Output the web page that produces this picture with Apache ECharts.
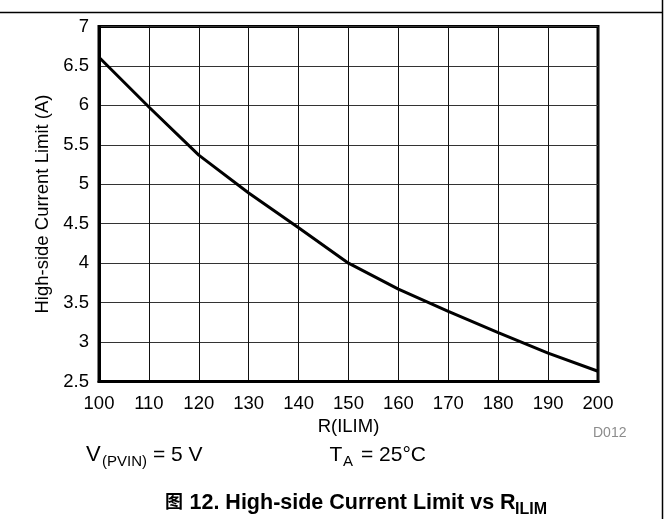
<!DOCTYPE html>
<html>
<head>
<meta charset="utf-8">
<script src="https://cdn.jsdelivr.net/npm/echarts@6/dist/echarts.min.js"></script>
<style>
html,body{margin:0;padding:0;background:#fff;}
#c{width:669px;height:519px;}
</style>
</head>
<body>
<div id="c"></div>
<script>
// Data
var rIlim = [100, 110, 120, 130, 140, 150, 160, 170, 180, 190, 200];
var currentLimit = [6.61, 5.98, 5.37, 4.89, 4.45, 4.00, 3.67, 3.39, 3.12, 2.86, 2.63];
var xTicks = {min: 100, max: 200, interval: 10};
var yTicks = {min: 2.5, max: 7, interval: 0.5};

var FONT = "'Liberation Sans', Arial, 'Noto Sans CJK SC', sans-serif";
var chart = echarts.init(document.getElementById('c'), null, {renderer: 'canvas'});

var seriesData = rIlim.map(function (x, i) { return [x, currentLimit[i]]; });

function txt(x, y, s, font, fill) {
  return {type: 'text', x: x, y: y, style: {text: s, fill: fill || '#000', font: font, textAlign: 'left', textVerticalAlign: 'middle', verticalAlign: 'middle'}};
}

chart.setOption({
  animation: false,
  backgroundColor: '#fff',
  grid: {
    left: 99, right: 71, top: 26.5, bottom: 137.5,
    show: true, borderColor: '#000', borderWidth: 3
  },
  xAxis: {
    type: 'value',
    min: xTicks.min, max: xTicks.max, interval: xTicks.interval,
    name: 'R(ILIM)',
    nameLocation: 'middle',
    nameGap: 34.5,
    nameTextStyle: {color: '#000', fontSize: 18.5, fontFamily: FONT},
    axisLine: {show: true, lineStyle: {color: '#000', width: 3}},
    axisTick: {show: false},
    axisLabel: {color: '#000', fontSize: 18.5, fontFamily: FONT, margin: 13},
    splitLine: {show: true, lineStyle: {color: '#111', width: 1}}
  },
  yAxis: {
    type: 'value',
    min: yTicks.min, max: yTicks.max, interval: yTicks.interval,
    name: 'High-side Current Limit (A)',
    nameLocation: 'middle',
    nameGap: 46,
    nameTextStyle: {color: '#000', fontSize: 18.5, fontFamily: FONT},
    axisLine: {show: true, lineStyle: {color: '#000', width: 3}},
    axisTick: {show: false},
    axisLabel: {color: '#000', fontSize: 18.5, fontFamily: FONT, margin: 10},
    splitLine: {show: true, lineStyle: {color: '#333', width: 1}}
  },
  series: [{
    type: 'line',
    data: seriesData,
    showSymbol: false,
    smooth: false,
    lineStyle: {color: '#000', width: 3},
    z: 5
  }],
  graphic: [
    {type: 'line', shape: {x1: 0, y1: 12.5, x2: 663, y2: 12.5}, style: {stroke: '#000', lineWidth: 1.5}},
    {type: 'line', shape: {x1: 662.5, y1: 0, x2: 662.5, y2: 519}, style: {stroke: '#000', lineWidth: 1.5}},
    txt(593, 433, 'D012', '14px ' + FONT, '#8c8c8c'),
    txt(86, 455.3, 'V', '22px ' + FONT),
    txt(102, 462, '(PVIN)', '15px ' + FONT),
    txt(153, 455.6, '= 5 V', '21px ' + FONT),
    txt(329.5, 455.6, 'T', '21px ' + FONT),
    txt(343, 462, 'A', '15px ' + FONT),
    txt(361, 455.6, '= 25°C', '21px ' + FONT),
    txt(165, 503, '图', 'bold 18px ' + FONT),
    txt(189.5, 502.6, '12. High-side Current Limit vs R', 'bold 21.5px ' + FONT),
    txt(515, 509.4, 'ILIM', 'bold 16px ' + FONT)
  ]
});
</script>
</body>
</html>
